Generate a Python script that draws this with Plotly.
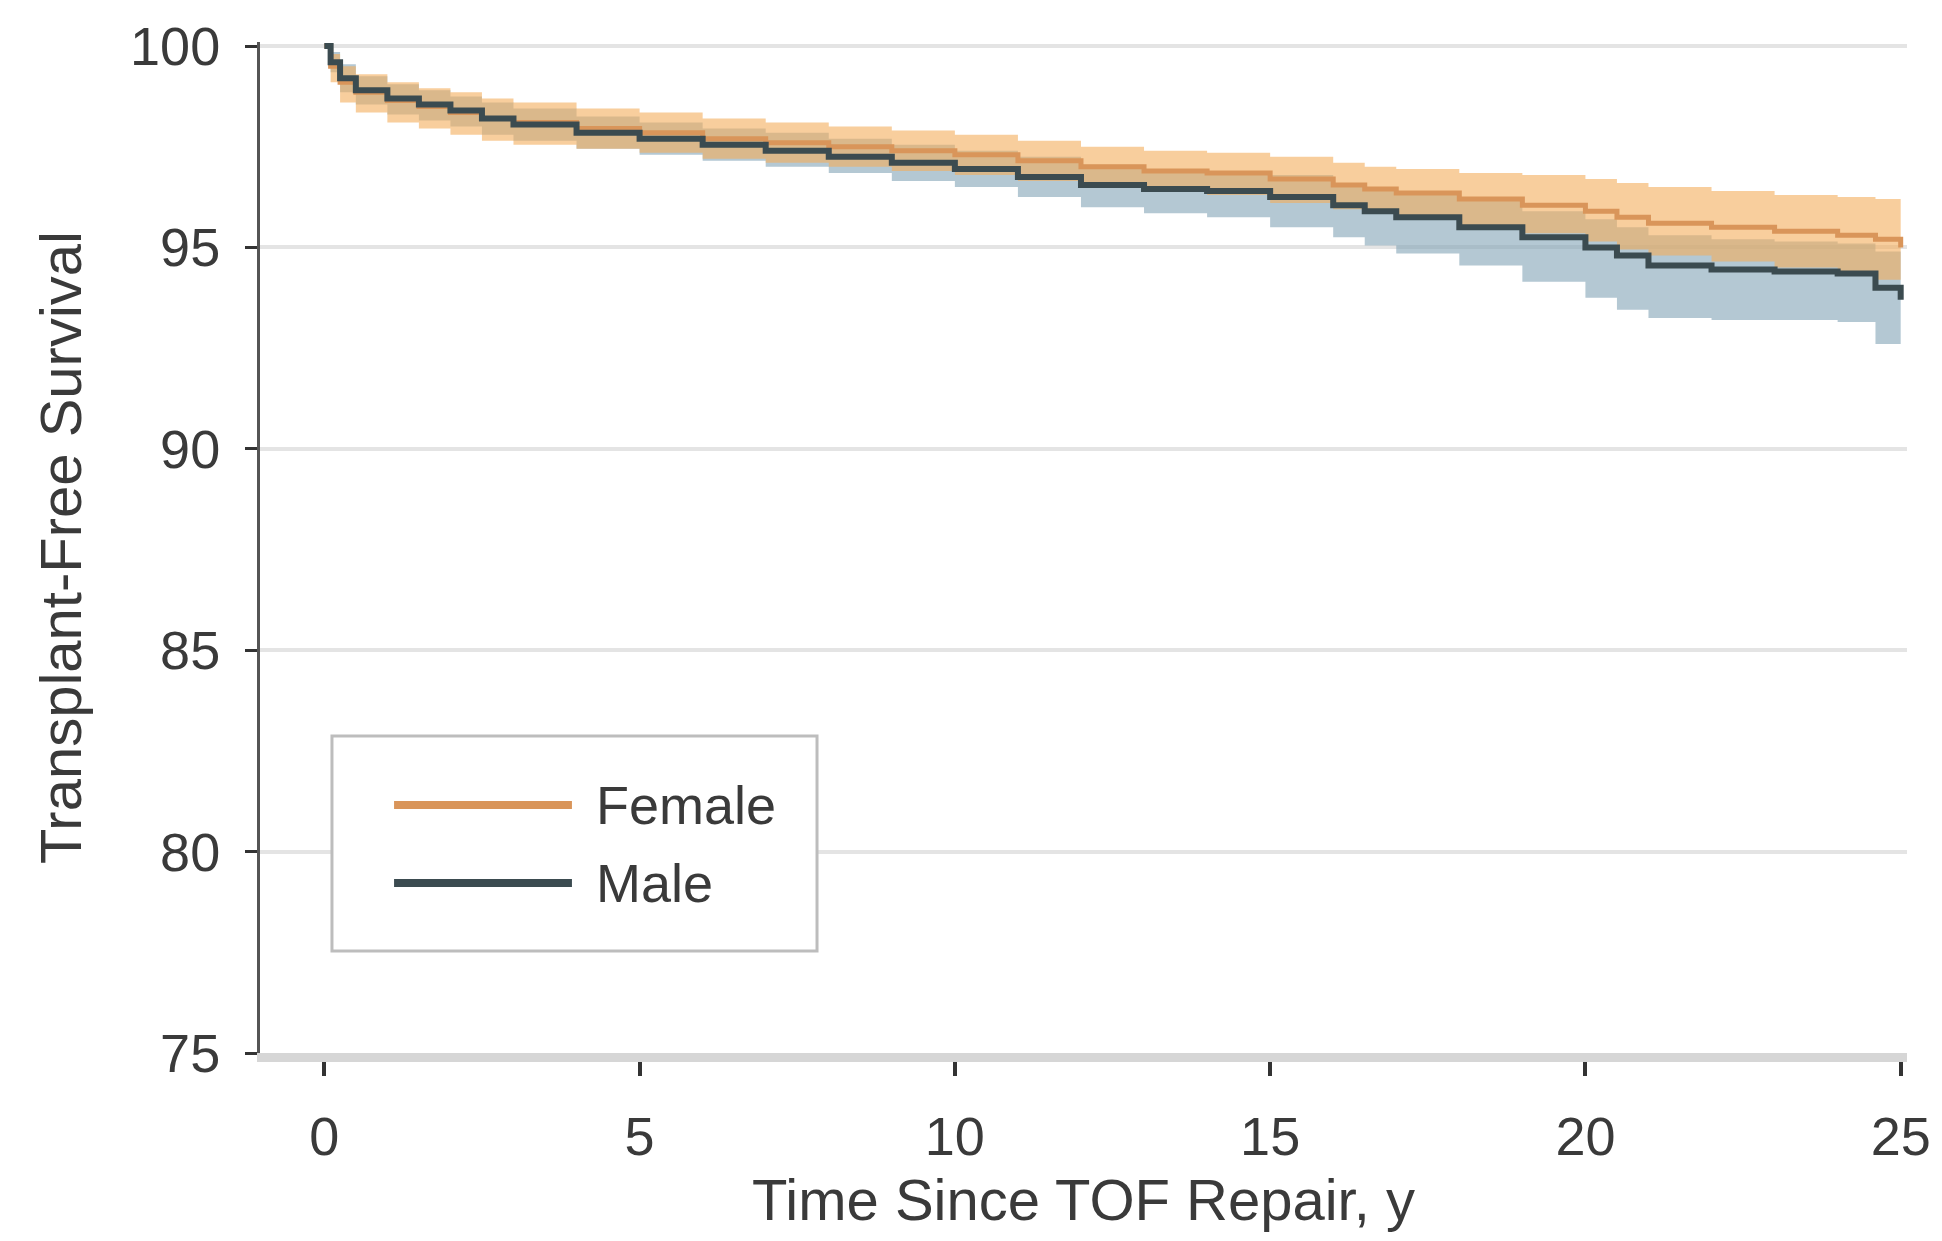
import plotly.graph_objects as go

# ---- data ----
years = [0, 0.1, 0.25, 0.5, 1.0, 1.5, 2.0, 2.5, 3.0, 4.0, 5.0, 6.0, 7.0, 8.0, 9.0, 10.0,
         11.0, 12.0, 13.0, 14.0, 15.0, 16.0, 16.5, 17.0, 18.0, 19.0, 20.0, 20.5, 21.0,
         22.0, 23.0, 24.0, 24.6, 25.0]

female_surv = [100, 99.5, 99.1, 98.85, 98.65, 98.5, 98.35, 98.2, 98.1, 97.95, 97.85, 97.7,
               97.6, 97.5, 97.4, 97.3, 97.15, 97.0, 96.9, 96.85, 96.7, 96.55, 96.45, 96.35,
               96.2, 96.05, 95.9, 95.75, 95.6, 95.5, 95.4, 95.3, 95.2, 95.0]
female_hi = [100, 99.8, 99.5, 99.3, 99.1, 98.95, 98.85, 98.7, 98.6, 98.45, 98.35, 98.2,
             98.1, 98.0, 97.9, 97.8, 97.65, 97.5, 97.4, 97.35, 97.25, 97.1, 97.0, 96.95,
             96.85, 96.8, 96.7, 96.6, 96.5, 96.4, 96.3, 96.25, 96.2, 96.1]
female_lo = [100, 99.1, 98.6, 98.35, 98.1, 97.95, 97.8, 97.65, 97.55, 97.45, 97.35, 97.2,
             97.1, 97.0, 96.9, 96.8, 96.65, 96.5, 96.4, 96.3, 96.1, 95.95, 95.85, 95.75,
             95.55, 95.35, 95.15, 94.95, 94.8, 94.65, 94.5, 94.35, 94.2, 93.9]

male_surv = [100, 99.6, 99.2, 98.9, 98.7, 98.55, 98.4, 98.2, 98.05, 97.85, 97.7, 97.55,
             97.4, 97.25, 97.1, 96.95, 96.75, 96.55, 96.45, 96.4, 96.25, 96.05, 95.9, 95.75,
             95.5, 95.25, 95.0, 94.8, 94.55, 94.45, 94.4, 94.35, 94.0, 93.7]
male_hi = [100, 99.85, 99.55, 99.25, 99.05, 98.9, 98.75, 98.6, 98.45, 98.25, 98.1, 97.95,
           97.85, 97.7, 97.55, 97.4, 97.25, 97.05, 96.95, 96.9, 96.8, 96.6, 96.45, 96.35,
           96.15, 95.9, 95.7, 95.5, 95.3, 95.2, 95.15, 95.1, 94.9, 94.6]
male_lo = [100, 99.35, 98.85, 98.55, 98.3, 98.15, 98.0, 97.8, 97.65, 97.45, 97.3, 97.15,
           97.0, 96.85, 96.65, 96.5, 96.25, 96.0, 95.85, 95.75, 95.5, 95.25, 95.05, 94.85,
           94.55, 94.15, 93.75, 93.45, 93.25, 93.2, 93.2, 93.15, 92.6, 92.1]

x_ticks = [0, 5, 10, 15, 20, 25]
y_ticks = [75, 80, 85, 90, 95, 100]
legend_names = ["Female", "Male"]

# ---- styles ----
FONT = "Liberation Sans, Arial, sans-serif"
TXT = "#3a3a3a"
F_LINE = "#D9955A"
M_LINE = "#3B4B50"
F_BAND = "rgba(244,174,92,0.6)"
M_BAND = "rgba(130,163,182,0.6)"

fig = go.Figure()

def band(lo, hi, color):
    fig.add_trace(go.Scatter(x=years, y=lo, mode="lines", line=dict(width=0, shape="hv"),
                             hoverinfo="skip", showlegend=False))
    fig.add_trace(go.Scatter(x=years, y=hi, mode="lines", line=dict(width=0, shape="hv"),
                             fill="tonexty", fillcolor=color, hoverinfo="skip",
                             showlegend=False))

band(male_lo, male_hi, M_BAND)
band(female_lo, female_hi, F_BAND)

fig.add_trace(go.Scatter(x=years, y=female_surv, mode="lines", name=legend_names[0],
                         line=dict(color=F_LINE, width=5, shape="hv"), showlegend=False))
fig.add_trace(go.Scatter(x=years, y=male_surv, mode="lines", name=legend_names[1],
                         line=dict(color=M_LINE, width=6, shape="hv"), showlegend=False))

# ---- legend box (drawn to match the reference layout) ----
shapes = [
    dict(type="rect", xref="paper", yref="paper", x0=0.0437, x1=0.3382, y0=0.1009, y1=0.3136,
         line=dict(color="#bdbdbd", width=3), fillcolor="white", layer="above"),
    dict(type="line", xref="paper", yref="paper", x0=0.0814, x1=0.1894, y0=0.2453, y1=0.2453,
         line=dict(color=F_LINE, width=8), layer="above"),
    dict(type="line", xref="paper", yref="paper", x0=0.0814, x1=0.1894, y0=0.1682, y1=0.1682,
         line=dict(color=M_LINE, width=8), layer="above"),
]
annotations = [
    dict(xref="paper", yref="paper", x=0.2028, y=0.2453, text=legend_names[0], showarrow=False,
         xanchor="left", yanchor="middle", font=dict(family=FONT, size=54, color=TXT)),
    dict(xref="paper", yref="paper", x=0.2028, y=0.1682, text=legend_names[1], showarrow=False,
         xanchor="left", yanchor="middle", font=dict(family=FONT, size=54, color=TXT)),
]

fig.update_layout(
    width=1942, height=1241,
    margin=dict(l=260, r=35, t=42, b=188),
    plot_bgcolor="white", paper_bgcolor="white",
    font=dict(family=FONT, color=TXT),
    shapes=shapes, annotations=annotations,
    showlegend=False,
)

fig.update_xaxes(
    range=[-1.02, 25.1], tickvals=x_ticks, ticktext=[str(v) for v in x_ticks],
    showgrid=False, zeroline=False,
    showline=True, linecolor="#d6d6d6", linewidth=9,
    ticks="outside", ticklen=14, tickwidth=4, tickcolor="#333333",
    tickfont=dict(family=FONT, size=54, color=TXT), ticklabelstandoff=14,
    title=dict(text="Time Since TOF Repair, y", font=dict(family=FONT, size=58, color=TXT),
               standoff=18),
)
fig.update_yaxes(
    range=[75, 100.1], tickvals=y_ticks, ticktext=[str(v) for v in y_ticks],
    showgrid=True, gridcolor="#e4e4e4", gridwidth=4, zeroline=False,
    showline=True, linecolor="#555555", linewidth=3,
    ticks="outside", ticklen=12, tickwidth=3, tickcolor="#333333",
    tickfont=dict(family=FONT, size=54, color=TXT), ticklabelstandoff=14,
    title=dict(text="Transplant-Free Survival", font=dict(family=FONT, size=58, color=TXT),
               standoff=30),
)

fig.write_html("out.html")
